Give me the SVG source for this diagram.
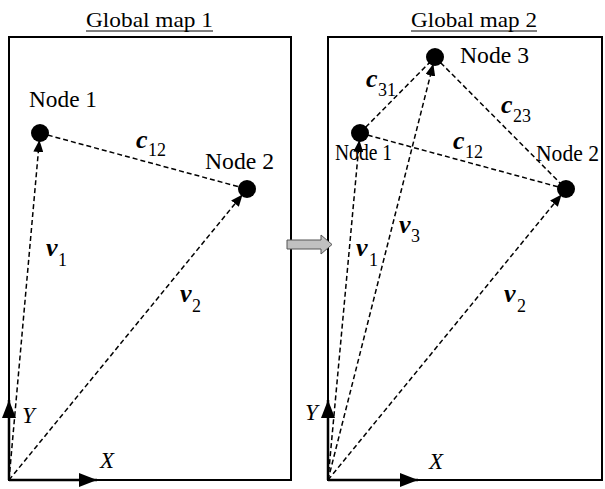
<svg xmlns="http://www.w3.org/2000/svg" width="605" height="489" viewBox="0 0 605 489">
<style>
text{font-family:"Liberation Serif","Times New Roman",serif;fill:#000}
.title{font-size:22px}
.node-label{font-size:24px}
.var{font-size:26px;font-style:italic;font-weight:bold}
.sub{font-size:18px}
.axis-label{font-size:23px;font-style:italic}
.frame{fill:none;stroke:#000;stroke-width:2}
.dash{fill:none;stroke:#000;stroke-width:1.5;stroke-dasharray:5,3}
.axis{fill:none;stroke:#000;stroke-width:2.5}
.ul{stroke:#000;stroke-width:1}
</style>
<defs>
<marker id="ah" viewBox="0 0 12 10" refX="12" refY="5" markerWidth="12" markerHeight="10" markerUnits="userSpaceOnUse" orient="auto">
<path d="M0,0 L12,5 L0,10 z" fill="#000"/>
</marker>
<marker id="axh" viewBox="0 0 18 14" refX="18" refY="7" markerWidth="18" markerHeight="14" markerUnits="userSpaceOnUse" orient="auto">
<path d="M0,0 L18,7 L0,14 z" fill="#000"/>
</marker>
</defs>

<g id="map1">
<text class="title" x="86" y="27" textLength="127" lengthAdjust="spacingAndGlyphs">Global map 1</text>
<line class="ul" x1="86" y1="31" x2="213" y2="31"/>
<rect class="frame" x="9" y="37" width="282" height="443"/>
</g>

<g id="map2">
<text class="title" x="411" y="27" textLength="126" lengthAdjust="spacingAndGlyphs">Global map 2</text>
<line class="ul" x1="411" y1="31" x2="537" y2="31"/>
<rect class="frame" x="328" y="37" width="274" height="443"/>
</g>

<g id="transfer-arrow">
<polygon points="287,240 321,240 321,235 332,244.5 321,254 321,249 287,249" fill="#c0c0c0" stroke="#555" stroke-width="1"/>
</g>

<g id="connectors">
<line class="dash" x1="40" y1="133" x2="247" y2="189"/>
<line class="dash" x1="9" y1="480" x2="39.4" y2="140" marker-end="url(#ah)"/>
<line class="dash" x1="9" y1="480" x2="242.6" y2="194.4" marker-end="url(#ah)"/>
<line class="axis" x1="9" y1="480" x2="9" y2="400" marker-end="url(#axh)"/>
<line class="axis" x1="9" y1="480" x2="97" y2="480" marker-end="url(#axh)"/>
<line class="dash" x1="360" y1="133" x2="566" y2="189"/>
<line class="dash" x1="360" y1="133" x2="435" y2="57"/>
<line class="dash" x1="435" y1="57" x2="566" y2="189"/>
<line class="dash" x1="328" y1="480" x2="359.4" y2="140" marker-end="url(#ah)"/>
<line class="dash" x1="328" y1="480" x2="433.3" y2="63.8" marker-end="url(#ah)"/>
<line class="dash" x1="328" y1="480" x2="561.6" y2="194.4" marker-end="url(#ah)"/>
<line class="axis" x1="328" y1="480" x2="328" y2="400" marker-end="url(#axh)"/>
<line class="axis" x1="328" y1="480" x2="418" y2="480" marker-end="url(#axh)"/>
</g>

<g id="m1-node1">
<circle cx="40" cy="133" r="9"/>
<text class="node-label" x="29" y="107" textLength="68" lengthAdjust="spacingAndGlyphs">Node 1</text>
</g>
<g id="m1-node2">
<circle cx="247" cy="189" r="9"/>
<text class="node-label" x="205" y="169" textLength="69" lengthAdjust="spacingAndGlyphs">Node 2</text>
</g>
<g id="m2-node1">
<circle cx="360" cy="133" r="9"/>
<text class="node-label" x="335" y="160" textLength="57" lengthAdjust="spacingAndGlyphs">Node 1</text>
</g>
<g id="m2-node2">
<circle cx="566" cy="189" r="9"/>
<text class="node-label" x="536" y="161" textLength="63" lengthAdjust="spacingAndGlyphs">Node 2</text>
</g>
<g id="m2-node3">
<circle cx="435" cy="57" r="9"/>
<text class="node-label" x="460" y="63" textLength="69" lengthAdjust="spacingAndGlyphs">Node 3</text>
</g>

<g id="labels">
<text class="var" x="136" y="148">c</text><text class="sub" x="148" y="156">12</text>
<text class="var" x="46" y="256">v</text><text class="sub" x="58" y="266">1</text>
<text class="var" x="180" y="302">v</text><text class="sub" x="192" y="312">2</text>
<text class="axis-label" x="22" y="423">Y</text>
<text class="axis-label" x="100" y="468">X</text>

<text class="var" x="366" y="87">c</text><text class="sub" x="378" y="96">31</text>
<text class="var" x="501" y="113">c</text><text class="sub" x="513" y="122">23</text>
<text class="var" x="453" y="149">c</text><text class="sub" x="465" y="158">12</text>
<text class="var" x="399" y="233">v</text><text class="sub" x="411" y="242">3</text>
<text class="var" x="356" y="256">v</text><text class="sub" x="369" y="266">1</text>
<text class="var" x="504" y="302">v</text><text class="sub" x="517" y="312">2</text>
<text class="axis-label" x="305" y="420">Y</text>
<text class="axis-label" x="429" y="469">X</text>
</g>
</svg>
